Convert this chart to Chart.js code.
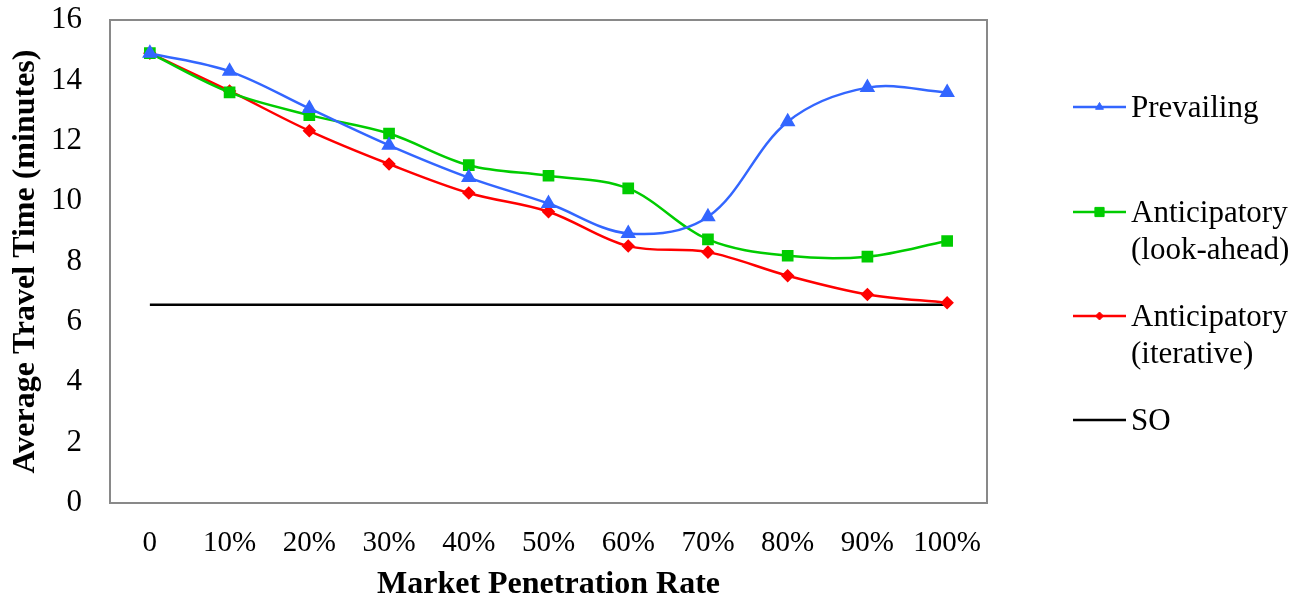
<!DOCTYPE html>
<html>
<head>
<meta charset="utf-8">
<title>Average Travel Time vs Market Penetration Rate</title>
<script src="https://cdn.jsdelivr.net/npm/chart.js@4/dist/chart.umd.min.js"></script>
<style>
  html, body { margin: 0; padding: 0; background: #ffffff; }
  #wrap { width: 1297px; height: 598px; position: relative; }
</style>
</head>
<body>
<div id="wrap"><canvas id="chart" width="1297" height="598"></canvas></div>
<script>
// Market penetration rates (x categories)
const categories = ['0', '10%', '20%', '30%', '40%', '50%', '60%', '70%', '80%', '90%', '100%'];

// Average travel time in minutes for each routing strategy
const prevailing = [14.9, 14.3, 13.07, 11.85, 10.78, 9.92, 8.93, 9.48, 12.63, 13.76, 13.6];
const lookAhead  = [14.9, 13.6, 12.85, 12.24, 11.19, 10.84, 10.42, 8.73, 8.19, 8.16, 8.68];
const iterative  = [14.9, 13.65, 12.33, 11.23, 10.27, 9.65, 8.51, 8.31, 7.53, 6.91, 6.63];
const systemOptimal = [6.57, 6.57, 6.57, 6.57, 6.57, 6.57, 6.57, 6.57, 6.57, 6.57, 6.57];

// Y-axis tick values
const yTicks = [0, 2, 4, 6, 8, 10, 12, 14, 16];

const SERIF = "'Liberation Serif', 'Times New Roman', serif";

// Legend entries: label lines for each dataset
const legendLines = [
  ['Prevailing'],
  ['Anticipatory', '(look-ahead)'],
  ['Anticipatory', '(iterative)'],
  ['SO']
];

// Plot frame drawn around the chart area
const framePlugin = {
  id: 'frame',
  beforeDatasetsDraw(chart) {
    const { ctx, chartArea: a } = chart;
    ctx.save();
    ctx.strokeStyle = '#898989';
    ctx.lineWidth = 2;
    ctx.strokeRect(a.left, a.top, a.right - a.left, a.bottom - a.top);
    ctx.restore();
  }
};

// Right-hand legend with multi-line labels and marker samples
const sideLegend = {
  id: 'sideLegend',
  afterDraw(chart) {
    const { ctx } = chart;
    const x0 = 1073, x1 = 1126, textX = 1131;
    const rows = [107, 212, 316, 420];
    const markerScale = [0.7, 1, 0.8, 0];
    const lineGap = 37;
    ctx.save();
    chart.data.datasets.forEach((ds, i) => {
      const y = rows[i];
      ctx.strokeStyle = ds.borderColor;
      ctx.lineWidth = 2.5;
      ctx.beginPath();
      ctx.moveTo(x0, y);
      ctx.lineTo(x1, y);
      ctx.stroke();
      if (ds.pointRadius > 0) {
        ctx.fillStyle = ds.pointBackgroundColor;
        ctx.strokeStyle = ds.pointBorderColor;
        ctx.lineWidth = 1;
        Chart.helpers.drawPoint(ctx, {
          pointStyle: ds.pointStyle,
          radius: ds.pointRadius * markerScale[i],
          rotation: 0,
          borderWidth: 1
        }, (x0 + x1) / 2, y);
      }
      ctx.fillStyle = '#000000';
      ctx.font = '31px ' + SERIF;
      ctx.textAlign = 'left';
      ctx.textBaseline = 'middle';
      legendLines[i].forEach((t, k) => ctx.fillText(t, textX, y + 2 + k * lineGap));
    });
    ctx.restore();
  }
};

const lineSet = (label, data, color, style, radius) => ({
  label,
  data,
  borderColor: color,
  backgroundColor: color,
  pointBackgroundColor: color,
  pointBorderColor: color,
  pointStyle: style,
  pointRadius: radius,
  pointHoverRadius: radius,
  borderWidth: 2.5,
  tension: 0.35,
  fill: false
});

new Chart(document.getElementById('chart'), {
  type: 'line',
  data: {
    labels: categories,
    datasets: [
      lineSet('Prevailing', prevailing, '#3366ff', 'triangle', 6.5),
      lineSet('Anticipatory (look-ahead)', lookAhead, '#00cc00', 'rect', 6.5),
      lineSet('Anticipatory (iterative)', iterative, '#ff0000', 'rectRot', 5),
      Object.assign(lineSet('SO', systemOptimal, '#000000', 'circle', 0), { tension: 0 })
    ]
  },
  options: {
    responsive: false,
    animation: false,
    devicePixelRatio: 1,
    layout: { padding: { top: 20, right: 310, bottom: 0, left: 0 } },
    plugins: {
      legend: { display: false },
      tooltip: { enabled: false }
    },
    scales: {
      x: {
        offset: true,
        grid: { display: false, drawTicks: false },
        border: { display: false },
        ticks: {
          color: '#000000',
          padding: 23,
          maxRotation: 0,
          autoSkip: false,
          font: { family: SERIF, size: 29 }
        },
        title: {
          display: true,
          text: 'Market Penetration Rate',
          color: '#000000',
          padding: 0,
          font: { family: SERIF, size: 32, weight: 'bold', lineHeight: 0.8 }
        },
        afterFit(scale) {
          scale.height = 95;
          scale.paddingLeft = 0;
          scale.paddingRight = 0;
        }
      },
      y: {
        min: 0,
        max: 16,
        afterBuildTicks(scale) { scale.ticks = yTicks.map(v => ({ value: v })); },
        grid: { display: false, drawTicks: false },
        border: { display: false },
        ticks: {
          color: '#000000',
          padding: 28,
          font: { family: SERIF, size: 31 }
        },
        title: {
          display: true,
          text: 'Average Travel Time (minutes)',
          color: '#000000',
          padding: { top: 10, bottom: 0 },
          font: { family: SERIF, size: 32, weight: 'bold', lineHeight: 1 }
        },
        afterFit(scale) {
          scale.width = 110;
          scale.paddingTop = 0;
          scale.paddingBottom = 0;
        }
      }
    }
  },
  plugins: [framePlugin, sideLegend]
});
</script>
</body>
</html>
